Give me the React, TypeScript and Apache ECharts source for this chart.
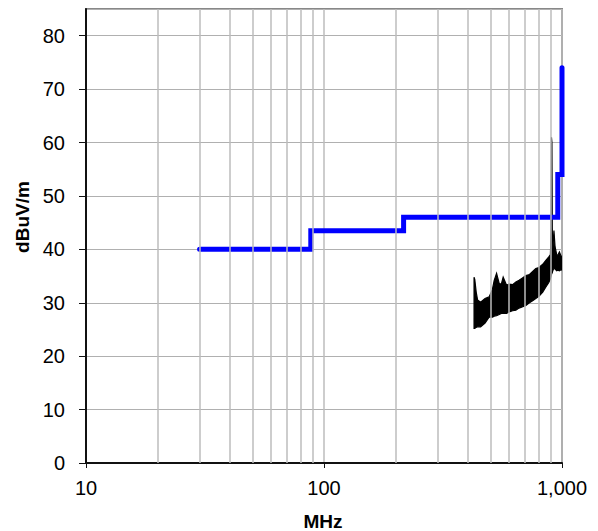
import React, { useEffect, useRef } from "react";
import * as echarts from "echarts";

// Limit line (MHz, dBuV/m)
const limitFreq = [30, 88, 88, 216, 216, 960, 960, 1000, 1000];
const limitLevel = [40, 40, 43.5, 43.5, 46, 46, 54, 54, 74];

// Measured emission envelope (MHz, upper / lower dBuV/m)
const noiseFreq = [427, 430, 436, 442, 455, 475, 494, 510, 519, 531, 545, 556, 566, 585, 600, 620, 640, 660, 680, 705, 730, 755, 776, 800, 830, 857, 880, 894, 900, 903, 907, 910, 915, 925, 935, 950, 960, 975, 990, 1000];
const noiseUpper = [34.8, 34.4, 32, 30.5, 30.1, 30.8, 31.1, 32.5, 34.2, 35.5, 33.6, 33.5, 34.8, 33.3, 33.5, 33.4, 33.9, 34.2, 34.6, 35.1, 35.3, 35.9, 36.4, 36.6, 37.2, 38, 38.6, 39, 44, 61, 60, 44, 40, 43.5, 40.5, 39, 38.9, 39.5, 38.8, 38.6];
const noiseLower = [25.2, 25.2, 25.4, 25.5, 25.5, 26.2, 27.3, 27.3, 27.5, 27.6, 27.8, 28, 28, 28, 28.3, 28.5, 28.6, 29, 29.2, 29.5, 30, 30.4, 30.8, 31.2, 32, 33, 33.8, 34.5, 35, 35.3, 35.5, 35.6, 36, 36.5, 36.3, 36, 36.1, 36, 36.2, 36.1];

// Axis ticks / gridlines
const yTicks = [0, 10, 20, 30, 40, 50, 60, 70, 80];
const xMinorGrid = [20, 30, 40, 50, 60, 70, 80, 90, 200, 300, 400, 500, 600, 700, 800, 900];

const FONT = "'Liberation Sans', Arial, sans-serif";

export default function App() {
  const ref = useRef<HTMLDivElement>(null);
  useEffect(() => {
    if (!ref.current) return;
    const chart = echarts.init(ref.current, null, { renderer: "svg" });
    const limitData = limitFreq.map((f, i) => [f, limitLevel[i]]);
    const noiseData = noiseFreq.map((f, i) => [f, noiseUpper[i], noiseLower[i]]);
    chart.setOption({
      animation: false,
      backgroundColor: "#ffffff",
      grid: {
        left: 86,
        right: 36,
        top: 9,
        bottom: 68,
        show: true,
        borderColor: "#888888",
        borderWidth: 2,
        backgroundColor: "transparent",
      },
      xAxis: {
        type: "log",
        logBase: 10,
        min: 10,
        max: 1000,
        axisLine: { show: true, onZero: false, lineStyle: { color: "#111", width: 2 } },
        axisTick: { show: true, inside: false, length: 5, lineStyle: { color: "#111", width: 1 } },
        axisLabel: {
          margin: 15,
          color: "#000",
          fontSize: 20,
          fontFamily: FONT,
          formatter: (v: number) => Number(v).toLocaleString("en-US"),
        },
        splitLine: { show: true, lineStyle: { color: "#bdbdbd", width: 1.5 } },
        minorTick: { show: false },
      },
      yAxis: {
        type: "value",
        min: 0,
        max: 85,
        interval: 10,
        axisLine: { show: true, lineStyle: { color: "#111", width: 2 } },
        axisTick: { show: true, inside: false, length: 7, lineStyle: { color: "#111", width: 1 } },
        axisLabel: {
          margin: 21,
          color: "#000",
          fontSize: 20,
          fontFamily: FONT,
          showMaxLabel: false,
          formatter: (v: number) => (yTicks.indexOf(v) >= 0 ? String(v) : ""),
        },
        splitLine: { show: true, lineStyle: { color: "#b0b0b0", width: 1 } },
      },
      graphic: [
        {
          type: "text",
          x: 323,
          y: 521,
          style: {
            text: "MHz",
            font: `bold 19px ${FONT}`,
            fill: "#000",
            align: "center",
            verticalAlign: "middle",
          },
        },
        {
          type: "text",
          x: 22,
          y: 217,
          rotation: Math.PI / 2,
          style: {
            text: "dBuV/m",
            font: `bold 19px ${FONT}`,
            fill: "#000",
            align: "center",
            verticalAlign: "middle",
          },
        },
      ],
      series: [
        {
          type: "line",
          name: "grid",
          data: [],
          z: 1,
          silent: true,
          markLine: {
            silent: true,
            symbol: ["none", "none"],
            label: { show: false },
            lineStyle: { type: "solid", color: "#bdbdbd", width: 1.5 },
            data: xMinorGrid.map((v) => ({ xAxis: v })),
          },
        },
        {
          type: "custom",
          name: "emission",
          z: 3,
          silent: true,
          clip: true,
          data: noiseData,
          encode: { x: 0, y: [1, 2] },
          renderItem: (params: any, api: any) => {
            if (params.dataIndex !== 0) return null;
            const pts: number[][] = [];
            for (let i = 0; i < noiseFreq.length; i++) pts.push(api.coord([noiseFreq[i], noiseUpper[i]]));
            for (let i = noiseFreq.length - 1; i >= 0; i--) pts.push(api.coord([noiseFreq[i], noiseLower[i]]));
            return {
              type: "polygon",
              shape: { points: pts },
              style: { fill: "#000", stroke: "#000", lineWidth: 1.2, lineJoin: "miter" },
            };
          },
        },
        {
          type: "line",
          name: "limit",
          z: 4,
          data: limitData,
          showSymbol: false,
          symbol: "none",
          lineStyle: { color: "#0000ff", width: 5, cap: "round", join: "miter" },
        },
      ],
    });
    return () => chart.dispose();
  }, []);
  return (
    <div
      ref={ref}
      style={{ position: "fixed", left: 0, top: 0, width: 598, height: 531 }}
    />
  );
}
